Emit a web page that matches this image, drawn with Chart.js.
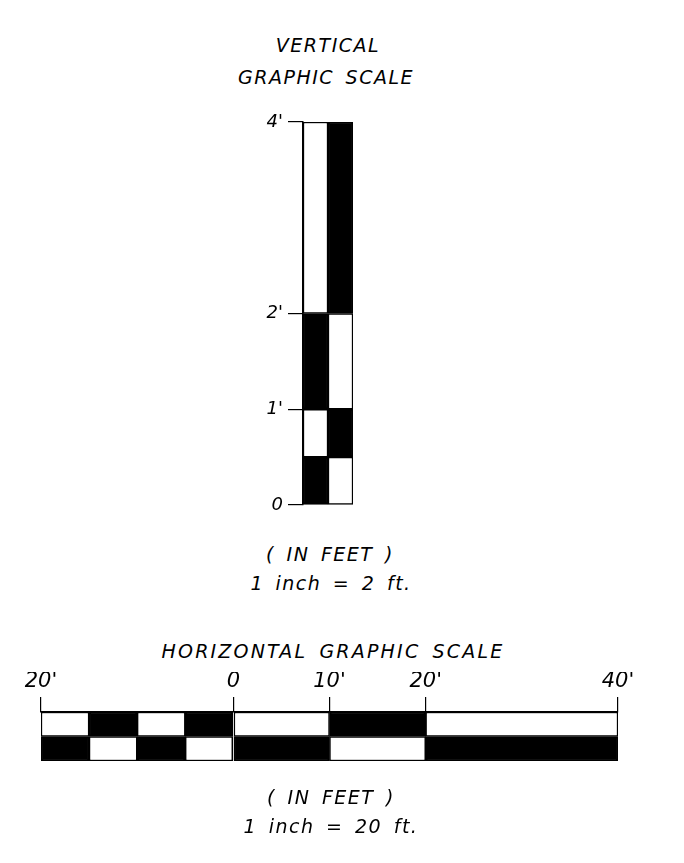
<!DOCTYPE html>
<html lang="en">
<head>
<meta charset="UTF-8">
<title>Graphic scales</title>
<script src="https://cdn.jsdelivr.net/npm/chart.js"></script>
<style>
    body { margin: 0; background: #fff; width: 684px; height: 863px; position: relative; overflow: hidden; }
    canvas { position: absolute; left: 0; }
    .txt {
        position: absolute; transform: translate(-50%, -50%); white-space: pre;
        font-family: "DejaVu Sans", sans-serif; font-style: oblique; font-size: 19px;
        letter-spacing: 1.5px; word-spacing: 4px; color: #000; line-height: 1;
    }
</style>
</head>
<body>

<div class="txt" style="left:328px; top:45px;">VERTICAL</div>
<div class="txt" style="left:326px; top:77px;">GRAPHIC SCALE</div>
<canvas id="vScale" width="684" height="530" style="top:0"></canvas>
<div class="txt" style="left:330px; top:554px;">( IN FEET )</div>
<div class="txt" style="left:331px; top:583px;">1 inch = 2 ft.</div>

<div class="txt" style="left:333px; top:651px; letter-spacing:2.2px;">HORIZONTAL GRAPHIC SCALE</div>
<canvas id="hScale" width="684" height="180" style="top:620px"></canvas>
<div class="txt" style="left:331px; top:797px;">( IN FEET )</div>
<div class="txt" style="left:331px; top:826px;">1 inch = 20 ft.</div>

<script>
    // escala vertical (pes)
    const vColumns = ['A', 'B'];
    const vBreaks = [0, 0.5, 1, 2, 4];
    const vTickValues = [0, 1, 2, 4];
    const vTickLabels = ['0', "1'", "2'", "4'"];

    // escala horizontal (pes)
    const hRows = ['top', 'bottom'];
    const hBreaks = [-20, -15, -10, -5, 0, 10, 20, 40];
    const hTickValues = [-20, 0, 10, 20, 40];
    const hTickLabels = ["20'", '0', "10'", "20'", "40'"];

    const fonte = { family: '"DejaVu Sans", sans-serif', size: 18, style: 'italic' };

    // cada faixa vira um dataset, alternando preto/branco como tabuleiro
    function montarFaixas(breaks, cats, inverter) {
        let sets = [];
        for (let i = 0; i < breaks.length - 1; i++) {
            sets.push({
                data: cats.map(() => [breaks[i], breaks[i + 1]]),
                backgroundColor: cats.map((c, j) => ((i + j + (inverter ? 1 : 0)) % 2 == 0) ? '#000' : '#fff'),
                borderColor: '#000',
                borderWidth: 1.5,
                borderSkipped: false,
                barPercentage: 1,
                categoryPercentage: 1
            });
        }
        return sets;
    }

    new Chart(document.getElementById('vScale'), {
        type: 'bar',
        data: { labels: vColumns, datasets: montarFaixas(vBreaks, vColumns, false) },
        options: {
            responsive: false,
            animation: false,
            layout: { padding: { left: 263, right: 331, top: 122, bottom: 25 } },
            plugins: { legend: { display: false }, tooltip: { enabled: false } },
            scales: {
                x: { display: false, stacked: true },
                y: {
                    min: 0, max: 4,
                    afterBuildTicks: (s) => { s.ticks = vTickValues.map(v => ({ value: v })); },
                    afterFit: (s) => { s.width = 40; },
                    ticks: {
                        padding: 5, color: '#000', font: fonte, autoSkip: false,
                        callback: (v, i) => vTickLabels[i]
                    },
                    grid: { drawOnChartArea: false, tickLength: 15, color: '#000', lineWidth: 1.2 },
                    border: { display: true, color: '#000', width: 1.5 }
                }
            }
        }
    });

    new Chart(document.getElementById('hScale'), {
        type: 'bar',
        data: { labels: hRows, datasets: montarFaixas(hBreaks, hRows, true) },
        options: {
            indexAxis: 'y',
            responsive: false,
            animation: false,
            layout: { padding: { left: 41, right: 66, top: 52, bottom: 39 } },
            plugins: { legend: { display: false }, tooltip: { enabled: false } },
            scales: {
                y: { display: false, stacked: true },
                x: {
                    position: 'top',
                    min: -20, max: 40,
                    afterBuildTicks: (s) => { s.ticks = hTickValues.map(v => ({ value: v })); },
                    afterFit: (s) => { s.height = 40; },
                    ticks: {
                        padding: 3, color: '#000', font: { ...fonte, size: 21 }, autoSkip: false, maxRotation: 0,
                        callback: (v, i) => hTickLabels[i]
                    },
                    grid: { drawOnChartArea: false, tickLength: 15, color: '#000', lineWidth: 1.2 },
                    border: { display: true, color: '#000', width: 1.5 }
                }
            }
        }
    });
</script>
</body>
</html>
